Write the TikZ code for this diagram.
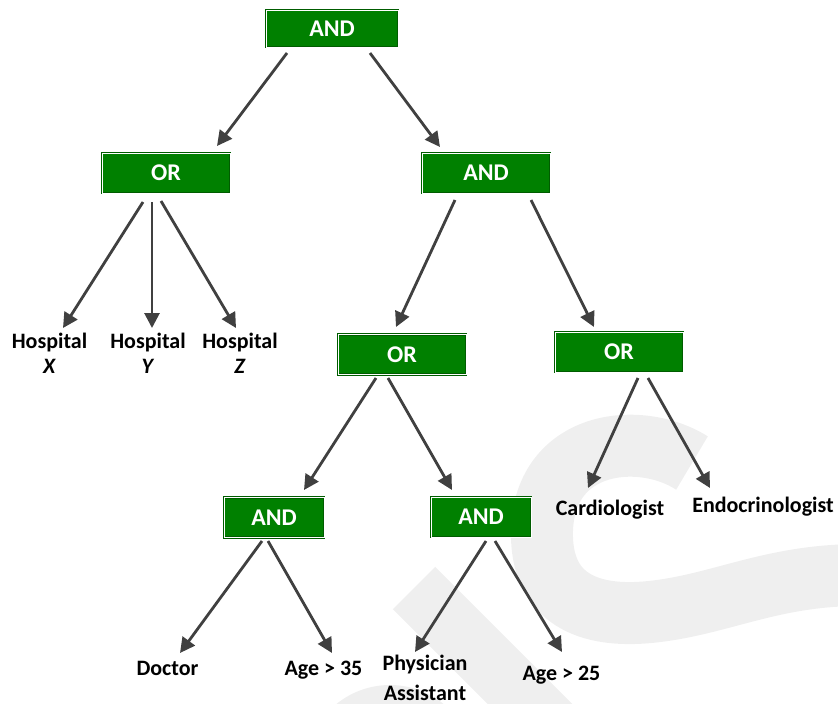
\documentclass[tikz,border=0pt]{standalone}
\usepackage{fontspec}
\setmainfont{Carlito}
\usepackage{xcolor}
\usetikzlibrary{arrows.meta}
\definecolor{gatefill}{RGB}{0,128,0}
\definecolor{gateedge}{RGB}{0,92,0}
\definecolor{arrowgray}{RGB}{64,64,64}
\definecolor{markgray}{RGB}{239,239,239}

\begin{document}
\begin{tikzpicture}[x=1pt,y=-1pt]
	\tikzset{gate/.style={draw=gateedge, line width=0.9pt, double=white, double distance=0.9pt, fill=gatefill, text=white, font=\fontsize{24}{28}\selectfont\bfseries, minimum width=128pt, minimum height=40pt, inner sep=0pt},
		smallgate/.style={gate, minimum width=100pt},
		leaf/.style={font=\fontsize{22}{27}\selectfont\bfseries, inner sep=0pt, align=center, anchor=base},
		flow/.style={-{Triangle[width=15pt,length=15pt]}, line width=2.8pt, draw=arrowgray}};
	\useasboundingbox (0,0) rectangle (838,704);
	% faint watermark
	\begin{scope}
		\clip (0,0) rectangle (838,704);
		\draw[markgray, line width=60pt] (414,588) -- (620,794);
		\draw[markgray, line width=62pt] (692,463) .. controls (640,430) and (545,440) .. (542,530) .. controls (540,600) and (590,618) .. (650,612) .. controls (720,605) and (770,575) .. (860,575);
		\fill[markgray] (390,770) circle (85);
	\end{scope}
	
	\node[gate, minimum width=132pt, minimum height=37pt] (and1) at (332,28.5) {AND};
	\node[gate] (or1) at (166,173) {OR};
	\node[gate] (and2) at (486,173) {AND};
	\node[gate] (or2) at (402,354.5) {OR};
	\node[gate] (or3) at (619,352) {OR};
	\node[smallgate] (and3) at (274,517.5) {AND};
	\node[smallgate] (and4) at (481,517) {AND};
	
	\node[leaf] (hx) at (49.5,373) {Hospital\\[-2pt]\textit{X}};
	\node[leaf] (hy) at (148,373) {Hospital\\[-2pt]\textit{Y}};
	\node[leaf] (hz) at (240,373) {Hospital\\[-2pt]\textit{Z}};
	\node[leaf] (card) at (610,515) {Cardiologist};
	\node[leaf] (endo) at (763,512) {Endocrinologist};
	\node[leaf] (doc) at (167.5,675) {Doctor};
	\node[leaf] (age35) at (323.5,675) {Age > 35};
	\node[leaf] (phys) at (425,700) {Physician\\[3pt]Assistant};
	\node[leaf] (age25) at (561.5,680) {Age > 25};
	
	\draw[flow] ([shift={(-45,24.5)}]and1.center) -- ([shift={(51,-27)}]or1.center);
	\draw[flow] ([shift={(38,24.5)}]and1.center) -- ([shift={(-46,-26)}]and2.center);
	\draw[flow] ([shift={(-23,29)}]or1.center) -- ([shift={(13.5,-45)}]hx.base);
	\draw[flow] ([shift={(-14,29)}]or1.center) -- ([shift={(4,-45)}]hy.base);
	\draw[flow] ([shift={(-5,28)}]or1.center) -- ([shift={(-4,-45)}]hz.base);
	\draw[flow] ([shift={(-31,27)}]and2.center) -- ([shift={(-6,-27.5)}]or2.center);
	\draw[flow] ([shift={(45,27)}]and2.center) -- ([shift={(-25,-25)}]or3.center);
	\draw[flow] ([shift={(-26,23.5)}]or2.center) -- ([shift={(30,-27.5)}]and3.center);
	\draw[flow] ([shift={(-14,23.5)}]or2.center) -- ([shift={(-29,-27)}]and4.center);
	\draw[flow] ([shift={(19,26)}]or3.center) -- ([shift={(-22,-27)}]card.base);
	\draw[flow] ([shift={(29,26)}]or3.center) -- ([shift={(-53,-24)}]endo.base);
	\draw[flow] ([shift={(-12,23.5)}]and3.center) -- ([shift={(12.5,-22)}]doc.base);
	\draw[flow] ([shift={(-6,23.5)}]and3.center) -- ([shift={(8.5,-22)}]age35.base);
	\draw[flow] ([shift={(5,24)}]and4.center) -- ([shift={(-10,-48)}]phys.base);
	\draw[flow] ([shift={(14,24)}]and4.center) -- ([shift={(0.5,-28)}]age25.base);
\end{tikzpicture}
\end{document}
